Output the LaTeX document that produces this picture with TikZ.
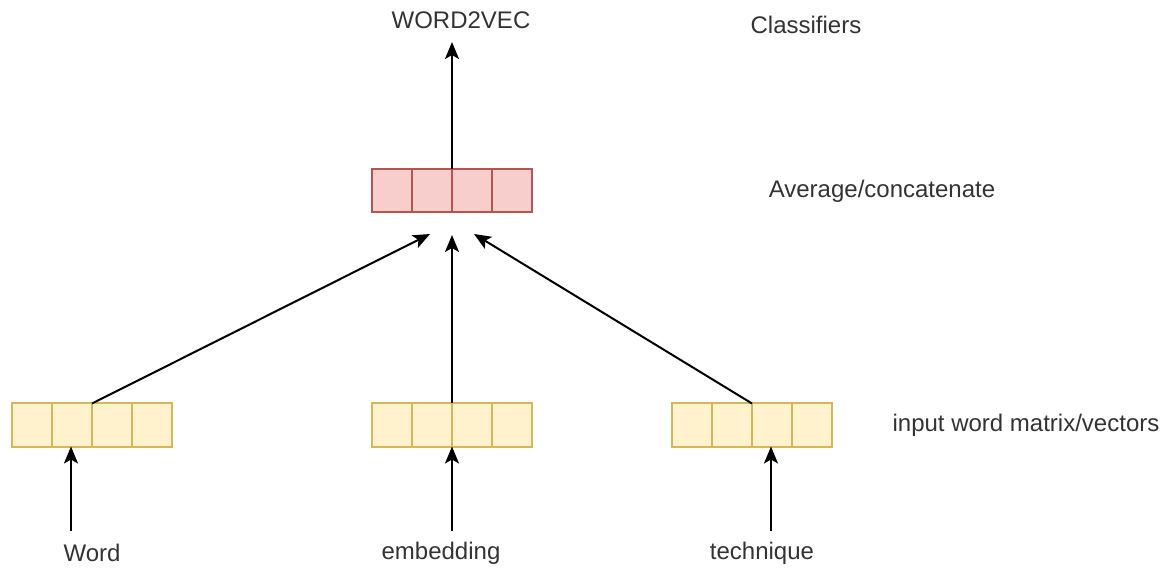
\documentclass[tikz,border=0pt]{standalone}
\usepackage{fontspec}
\setmainfont{Liberation Sans}
\usetikzlibrary{arrows.meta}
\definecolor{redfill}{HTML}{F8CECC}
\definecolor{redline}{HTML}{B85450}
\definecolor{yelfill}{HTML}{FFF2CC}
\definecolor{yelline}{HTML}{D6B656}
\definecolor{txt}{HTML}{333333}
\tikzset{
  cell/.style={draw, line width=2pt, minimum width=40pt, minimum height=43pt,
    inner sep=0pt, outer sep=0pt, anchor=west},
  redcell/.style={cell, draw=redline, fill=redfill},
  yelcell/.style={cell, draw=yelline, fill=yelfill},
  lbl/.style={text=txt, font=\fontsize{24}{28}\selectfont, inner sep=0pt},
  arr/.style={line width=2pt, -{Stealth[length=17pt, width=14pt, inset=4pt]}},
}
\begin{document}
\begin{tikzpicture}[x=1pt, y=-1pt]
\useasboundingbox (0,0) rectangle (1168,569);

% averaged vector
\foreach \i in {1,...,4}
  \node[redcell] (r\i) at (372+40*\i-40, 191) {};
% input word vectors
\foreach \i in {1,...,4} {
  \node[yelcell] (a\i) at (12+40*\i-40, 425) {};
  \node[yelcell] (b\i) at (372+40*\i-40, 425) {};
  \node[yelcell] (c\i) at (672+40*\i-40, 425) {};
}

% labels
\node[lbl] (w2v) at (461, 20) {WORD2VEC};
\node[lbl] (cls) at (806, 25) {Classifiers};
\node[lbl] (avg) at (882, 191) {Average/concatenate};
\node[lbl] (inp) at (1026, 425) {input word matrix/vectors};
\node[lbl] (word) at (92, 553) {Word};
\node[lbl] (emb) at (441, 553) {embedding};
\node[lbl] (tech) at (762, 553) {technique};

% arrow ends
\coordinate (top) at (452, 42);
\coordinate (tl) at (430, 234);
\coordinate (tm) at (452, 235);
\coordinate (tr) at (474, 234);
\coordinate (sw) at (71, 531);
\coordinate (se) at (452, 531);
\coordinate (st) at (771, 531);

% connectors
\draw[arr] (r2.north east) -- (top);
\draw[arr] (a2.north east) -- (tl);
\draw[arr] (b2.north east) -- (tm);
\draw[arr] (c2.north east) -- (tr);
\draw[arr] (sw) -- (a2.south -| sw);
\draw[arr] (se) -- (b2.south east);
\draw[arr] (st) -- (c3.south -| st);
\end{tikzpicture}
\end{document}
